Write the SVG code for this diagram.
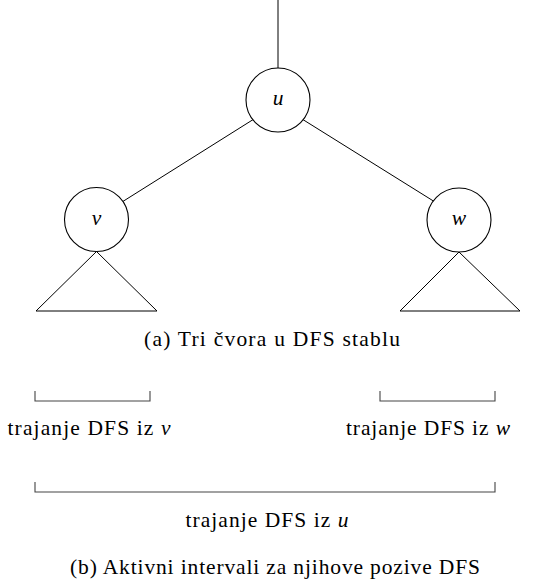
<svg xmlns="http://www.w3.org/2000/svg" width="549" height="582" viewBox="0 0 549 582">
<style>
.ln{stroke:#000;stroke-width:1;fill:none}
.nd{stroke:#000;stroke-width:1.1;fill:#fff}
.br{stroke:#444;stroke-width:1.1;fill:none}
text{font-family:"Liberation Serif","Times New Roman",serif;font-size:21.5px;fill:#000}
.m{font-style:italic}
</style>
<rect width="549" height="582" fill="#fff"/>
<g id="connectors">
<line class="ln" x1="278" y1="0" x2="278" y2="68"/>
<line class="ln" x1="254" y1="119" x2="122" y2="202"/>
<line class="ln" x1="302" y1="119" x2="435" y2="202"/>
</g>
<g id="node-u">
<circle class="nd" cx="278" cy="100" r="32"/>
<text class="m" x="278" y="105" text-anchor="middle">u</text>
</g>
<g id="node-v">
<circle class="nd" cx="96.5" cy="219.5" r="32"/>
<text class="m" x="96.5" y="224.5" text-anchor="middle">v</text>
</g>
<g id="node-w">
<circle class="nd" cx="459" cy="220" r="32"/>
<text class="m" x="459" y="225" text-anchor="middle">w</text>
</g>
<g id="subtree-v">
<polygon class="ln" points="96.5,251.5 36,311 157,311"/>
</g>
<g id="subtree-w">
<polygon class="ln" points="459,252 400,311 520,311"/>
</g>
<text x="272" y="346" text-anchor="middle" textLength="256" lengthAdjust="spacing">(a) Tri čvora u DFS stablu</text>
<g id="interval-v">
<polyline class="br" points="35,391 35,401 150,401 150,391"/>
<text x="89" y="435" text-anchor="middle" textLength="163" lengthAdjust="spacing">trajanje DFS iz <tspan class="m">v</tspan></text>
</g>
<g id="interval-w">
<polyline class="br" points="380,391 380,401 495,401 495,391"/>
<text x="428" y="435" text-anchor="middle" textLength="164" lengthAdjust="spacing">trajanje DFS iz <tspan class="m">w</tspan></text>
</g>
<g id="interval-u">
<polyline class="br" points="35,482 35,492 495,492 495,482"/>
<text x="267" y="527" text-anchor="middle" textLength="163" lengthAdjust="spacing">trajanje DFS iz <tspan class="m">u</tspan></text>
</g>
<text x="275" y="574" text-anchor="middle" textLength="410" lengthAdjust="spacing">(b) Aktivni intervali za njihove pozive DFS</text>
</svg>
